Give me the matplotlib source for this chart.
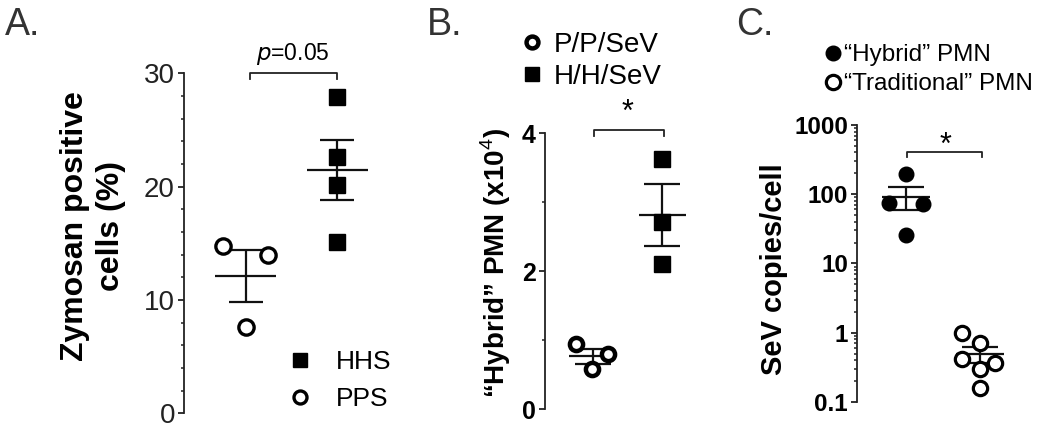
import numpy as np
import matplotlib
matplotlib.use("Agg")
import matplotlib.pyplot as plt
from matplotlib.ticker import MultipleLocator, FixedLocator, LogLocator, NullFormatter

plt.rcParams['font.family'] = ['Liberation Sans', 'DejaVu Sans']
plt.rcParams['mathtext.fontset'] = 'custom'
plt.rcParams['mathtext.rm'] = 'Liberation Sans'
plt.rcParams['mathtext.bf'] = 'Liberation Sans:bold'

# --- data ---
# A. zymosan positive cells (%)
a_pps = [14.8, 14.0, 7.6]
a_hhs = [27.9, 22.6, 20.1, 15.1]
a_mean = [12.1, 21.5]
a_sem = [2.3, 2.65]

# B. "hybrid" PMN (x10^4)
b_pps = [0.94, 0.80, 0.58]
b_hhs = [3.63, 2.71, 2.10]
b_mean = [0.77, 2.82]
b_sem = [0.11, 0.45]

# C. SeV copies/cell
c_hybrid = [193, 74, 71, 26]
c_trad = [1.0, 0.71, 0.42, 0.30, 0.37, 0.16]
c_mean = [92, 0.49]
c_sem = [34, 0.125]

W, H = 1050, 432
fig = plt.figure(figsize=(W / 100, H / 100), dpi=100)


def px_axes(left, bottom, width, height):
    return fig.add_axes([left / W, bottom / H, width / W, height / H])


def style(ax):
    for s in ['top', 'right', 'bottom']:
        ax.spines[s].set_visible(False)
    ax.spines['left'].set_linewidth(1.3)
    ax.spines['left'].set_color('#222222')
    ax.set_xticks([])
    ax.tick_params(axis='y', which='major', length=4.5, width=1.3, color='#222222', pad=2)
    ax.tick_params(axis='y', which='minor', length=2.5, width=1.1, color='#222222')


def mean_sem(ax, xs, means, sems, half, cap):
    ax.errorbar(xs, means, yerr=sems, fmt='none', ecolor='#111111', elinewidth=1.6,
                capsize=cap, capthick=1.6, zorder=2)
    ax.hlines(means, np.array(xs) - half, np.array(xs) + half, color='#111111', lw=1.6, zorder=2)


def bracket(ax, x1, x2, ytop, ytip):
    ax.plot([x1, x1, x2, x2], [ytip, ytop, ytop, ytip], color='#222222', lw=1.3, clip_on=False)


# ---------------- panel A ----------------
axA = px_axes(184, 18.7, 200, 340)
style(axA)
axA.set_xlim(0.321, 2.512)
axA.set_ylim(0, 30)
axA.yaxis.set_major_locator(MultipleLocator(10))
axA.yaxis.set_minor_locator(MultipleLocator(2))
axA.tick_params(axis='y', labelsize=20, labelcolor='#222222')

mean_sem(axA, [1, 2], a_mean, a_sem, 0.334, 12)
hA, = axA.plot(np.full(len(a_hhs), 2.0), a_hhs, 's', ms=12, color='black', mec='black',
               ls='none', zorder=3, clip_on=False)
oA, = axA.plot(1 + np.array([-0.25, 0.24, 0.0]), a_pps, 'o', ms=11, mfc='white', mec='black',
               mew=2.4, ls='none', zorder=3, clip_on=False)
bracket(axA, 1.04, 2.0, 30.06, 29.5)
axA.text(1.515, 31.2, r'$\it{p}$=0.05', ha='center', va='baseline', fontsize=16.5)
axA.set_ylabel('Zymosan positive\ncells (%)', fontsize=23, fontweight='bold', linespacing=1.25)
axA.yaxis.set_label_coords(-0.29, 0.55)
axA.legend([hA, oA], ['HHS', 'PPS'], loc='upper left', bbox_to_anchor=(287 / W, 1 - 350 / H),
           bbox_transform=fig.transFigure, frameon=False, fontsize=19, handlelength=1.0,
           handletextpad=0.85, labelspacing=0.5, borderpad=0, borderaxespad=0, markerscale=0.85)

# ---------------- panel B ----------------
axB = px_axes(545, 22.7, 150, 276)
style(axB)
axB.set_xlim(0.307, 2.472)
axB.set_ylim(0, 4)
axB.yaxis.set_major_locator(FixedLocator([0, 2, 4]))
axB.yaxis.set_minor_locator(FixedLocator([1, 3]))
axB.tick_params(axis='y', labelsize=18)
for t in axB.get_yticklabels():
    t.set_fontweight('bold')

mean_sem(axB, [1, 2], b_mean, b_sem, 0.34, 13)
oB, = axB.plot(1 + np.array([-0.24, 0.22, -0.01]), b_pps, 'o', ms=9.5, mfc='white', mec='black',
               mew=3.2, ls='none', zorder=3, clip_on=False)
hB, = axB.plot(np.full(len(b_hhs), 2.0), b_hhs, 's', ms=11.5, color='black', ls='none',
               zorder=3, clip_on=False)
bracket(axB, 1.01, 2.03, 4.05, 3.96)
axB.text(1.5, 4.30, '*', ha='center', va='center', fontsize=22)
axB.set_ylabel('\u201cHybrid\u201d PMN (x10$^{4}$)', fontsize=20, fontweight='bold')
axB.yaxis.set_label_coords(-0.213, 0.53)
axB.legend([oB, hB], ['P/P/SeV', 'H/H/SeV'], loc='upper left', bbox_to_anchor=(518 / W, 1 - 32 / H),
           bbox_transform=fig.transFigure, frameon=False, fontsize=20, handlelength=1.0,
           handletextpad=0.3, labelspacing=0.2, borderpad=0, borderaxespad=0, markerscale=0.9)

# ---------------- panel C ----------------
axC = px_axes(857, 30, 170, 277.2)
style(axC)
axC.set_yscale('log')
axC.set_xlim(0.338, 2.635)
axC.set_ylim(0.1, 1000)
axC.yaxis.set_major_locator(FixedLocator([0.1, 1, 10, 100, 1000]))
axC.yaxis.set_minor_locator(LogLocator(base=10, subs=np.arange(2, 10)))
axC.yaxis.set_minor_formatter(NullFormatter())
axC.set_yticklabels(['0.1', '1', '10', '100', '1000'])
axC.tick_params(axis='y', labelsize=17.5)
for t in axC.get_yticklabels():
    t.set_fontweight('bold')

mean_sem(axC, [1, 2], c_mean, c_sem, 0.33, 13)
fC, = axC.plot(1 + np.array([0.0, -0.23, 0.23, 0.0]), c_hybrid, 'o', ms=10.5, color='black',
               ls='none', zorder=3, clip_on=False)
oC, = axC.plot(2 + np.array([-0.25, 0.0, -0.25, 0.0, 0.2, 0.0]), c_trad, 'o', ms=10.3,
               mfc='white', mec='black', mew=2.3, ls='none', zorder=3, clip_on=False)
bracket(axC, 1.01, 2.03, 405, 340)
axC.text(1.54, 500, '*', ha='center', va='center', fontsize=22)
axC.set_ylabel('SeV copies/cell', fontsize=21, fontweight='bold')
axC.yaxis.set_label_coords(-0.406, 0.48)
axC.legend([fC, oC], ['\u201cHybrid\u201d PMN', '\u201cTraditional\u201d PMN'], loc='upper left',
           bbox_to_anchor=(823 / W, 1 - 44 / H), bbox_transform=fig.transFigure, frameon=False,
           fontsize=17.5, handlelength=0.8, handletextpad=0.05, labelspacing=0.3, borderpad=0,
           borderaxespad=0)

# panel letters
for x, lab in [(5, 'A.'), (427, 'B.'), (736, 'C.')]:
    fig.text(x / W, 1 - 35 / H, lab, fontsize=27, color='#333333', va='baseline', ha='left')

fig.savefig('out.png', dpi=100)
